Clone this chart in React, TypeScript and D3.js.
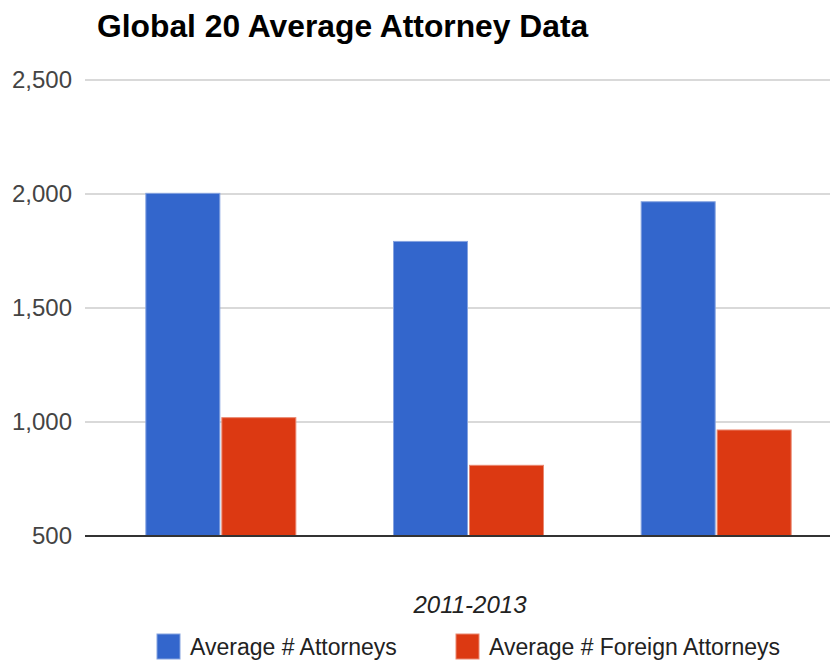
import React from "react";
import * as d3 from "d3";

const categories = ["2011", "2012", "2013"];
const seriesNames = ["Average # Attorneys", "Average # Foreign Attorneys"];
const attorneys = [2003, 1792, 1966];
const foreignAttorneys = [1019, 810, 965];
const yTicks = [500, 1000, 1500, 2000, 2500];
const colors = ["#3366cc", "#dc3912"];
const strokeColors = ["#85a3e0", "#ea8870"];
const title = "Global 20 Average Attorney Data";
const xTitle = "2011-2013";

const W = 830;
const H = 662;
const FONT = "Arial, 'Liberation Sans', sans-serif";

export default function App() {
  const y = d3.scaleLinear().domain([500, 2500]).range([536, 80]);
  const x0 = d3.scaleBand<string>().domain(categories).range([97, 840]).paddingInner(0).paddingOuter(0);
  const x1 = d3.scaleBand<string>().domain(seriesNames).range([0, 150]).paddingInner(2 / 76).paddingOuter(0);
  const values = [attorneys, foreignAttorneys];
  const gridLeft = 85;
  const gridRight = 830;
  const fmt = d3.format(",");

  return (
    <svg width={W} height={H} style={{ position: "absolute", left: 0, top: 0, background: "#fff" }}>
      <rect x={0} y={0} width={W} height={H} fill="#fff" />
      <text x={97} y={37} fontFamily={FONT} fontWeight="bold" fontSize={31.8} fill="#000">
        {title}
      </text>
      {yTicks.map((t) => (
        <g key={t}>
          {t !== 500 && (
            <line x1={gridLeft} x2={gridRight} y1={y(t)} y2={y(t)} stroke="#cccccc" strokeWidth={1.5} />
          )}
          <text
            x={72}
            y={y(t)}
            dy="0.35em"
            textAnchor="end"
            fontFamily={FONT}
            fontSize={24}
            fill="#444"
          >
            {fmt(t)}
          </text>
        </g>
      ))}
      {categories.map((c, ci) => {
        const cx = (x0(c) ?? 0) + x0.bandwidth() / 2 - 75;
        return (
          <g key={c}>
            {seriesNames.map((s, si) => {
              const v = values[si][ci];
              const bx = cx + (x1(s) ?? 0);
              return (
                <rect
                  key={s}
                  x={bx}
                  y={y(v)}
                  width={x1.bandwidth()}
                  height={y(500) - y(v)}
                  fill={colors[si]}
                  stroke={strokeColors[si]}
                  strokeWidth={1}
                />
              );
            })}
          </g>
        );
      })}
      <line x1={gridLeft} x2={gridRight} y1={y(500)} y2={y(500)} stroke="#333" strokeWidth={2} />
      <text x={470} y={605} dy="0.35em" textAnchor="middle" fontFamily={FONT} fontStyle="italic" fontSize={24} fill="#222">
        {xTitle}
      </text>
      {seriesNames.map((s, si) => {
        const lx = si === 0 ? 157 : 456;
        return (
          <g key={s}>
            <rect x={lx} y={634} width={23} height={25} fill={colors[si]} stroke={strokeColors[si]} strokeWidth={1} />
            <text x={lx + 33} y={647} dy="0.35em" fontFamily={FONT} fontSize={23} fill="#222">
              {s}
            </text>
          </g>
        );
      })}
    </svg>
  );
}
